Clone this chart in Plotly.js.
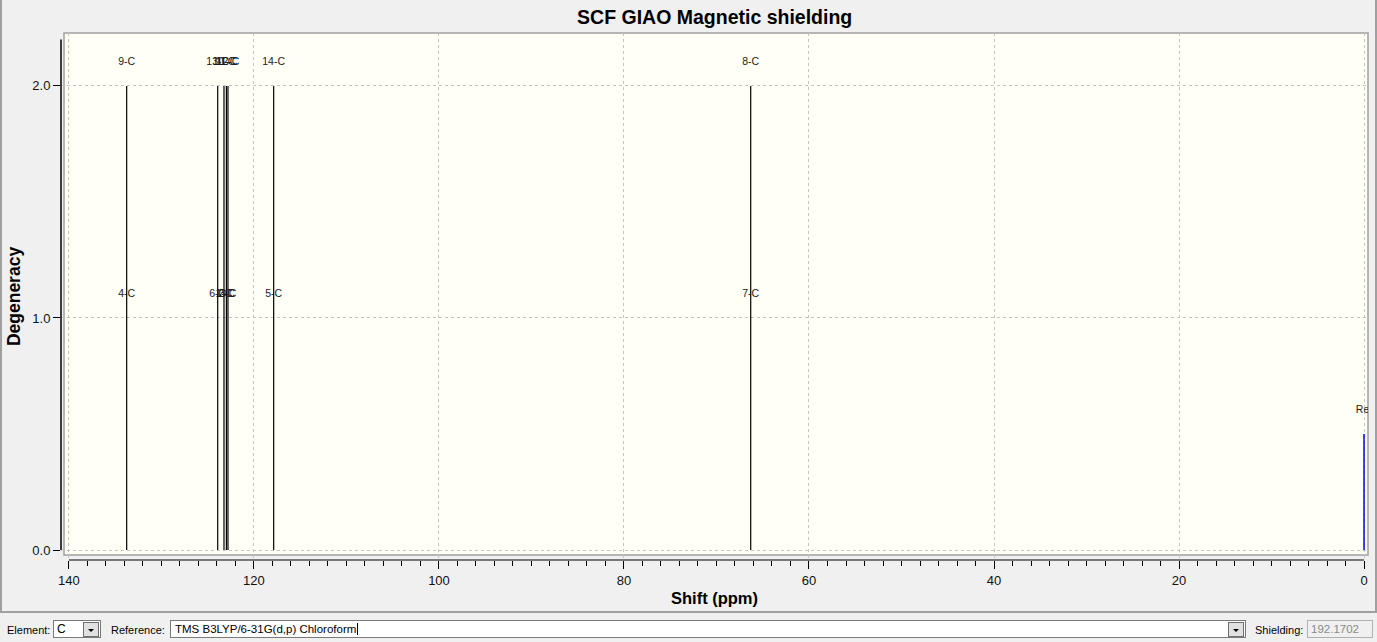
<!DOCTYPE html>
<html>
<head>
<meta charset="utf-8">
<script src="https://cdn.plot.ly/plotly-3.0.1.min.js"></script>
<style>
  html, body { margin:0; padding:0; background:#f0f0f0; width:1377px; height:642px; overflow:hidden;
    font-family:"Liberation Sans", Arial, sans-serif; }
  #frame { position:absolute; left:0; top:0; width:1373px; height:611px;
    border-left:2px solid #a0a0a0; border-right:2px solid #a0a0a0; border-bottom:2px solid #a0a0a0; }
  #chart { position:absolute; left:0; top:0; width:1377px; height:612px; }
  .lbl { position:absolute; font-size:11px; color:#000; top:624px; }
  .box { position:absolute; top:620px; height:18px; background:#fff; border:1px solid #7a7a7a;
    font-size:11.5px; line-height:17px; padding-left:3px; box-sizing:border-box; }
  .btn { position:absolute; top:622px; width:16px; height:15px; background:#e1e1e1; border:1px solid #707070; box-sizing:border-box; }
  .btn:after { content:""; position:absolute; left:4px; top:6px; border-left:3px solid transparent; border-right:3px solid transparent; border-top:3px solid #000; }
</style>
</head>
<body>
<div id="frame"></div>
<div id="chart"></div>
<div class="lbl" style="left:7px;">Element:</div>
<div class="box" style="left:53px; width:48px; font-size:12px;">C</div>
<div class="btn" style="left:83px;"></div>
<div class="lbl" style="left:111px;">Reference:</div>
<div class="box" style="left:170px; width:1076px; padding-left:4px;">TMS B3LYP/6-31G(d,p) Chloroform<span style="border-left:1px solid #000;margin-left:1px;"></span></div>
<div class="btn" style="left:1228px;"></div>
<div class="lbl" style="left:1255px;">Shielding:</div>
<div class="box" style="left:1307px; width:66px; background:#f0f0f0; border-color:#b0b0b0; color:#8a8a8a;">192.1702</div>
<script>
// ---- data ----
const shifts      = [133.76, 123.92, 123.24, 122.98, 122.81, 117.87, 66.30];
const degeneracy  = [2, 2, 2, 2, 2, 2, 2];
const upperLabels = ["9-C", "13-C", "10-C", "11-C", "12-C", "14-C", "8-C"];
const lowerLabels = ["4-C", "6-C", "1-C", "2-C", "3-C", "5-C", "7-C"];
const refShift    = [0];
const refHeight   = [0.5];
const refLabels   = ["Ref"];
const xTickVals   = [140, 120, 100, 80, 60, 40, 20, 0];
const yTickVals   = [0, 1, 2];

// sticks
const sx = [], sy = [];
shifts.forEach((s, i) => { sx.push(s, s, null); sy.push(0, degeneracy[i], null); });
const rx = [], ry = [];
refShift.forEach((s, i) => { rx.push(s, s, null); ry.push(0, refHeight[i], null); });

const labelFont = {family: "Liberation Sans, Arial, sans-serif", size: 10.5, color: "#1a1a1a"};

const traces = [
  {x: sx, y: sy, mode: "lines", line: {color: "#000000", width: 1.2}, hoverinfo: "skip", showlegend: false},
  {x: rx, y: ry, mode: "lines", line: {color: "#0000ff", width: 1.5}, hoverinfo: "skip", showlegend: false},
  {x: shifts, y: degeneracy.map(d => d + 0.1), mode: "text", text: upperLabels,
   textposition: "middle center", textfont: labelFont, cliponaxis: true, showlegend: false, hoverinfo: "skip"},
  {x: shifts, y: degeneracy.map(d => d - 0.9), mode: "text", text: lowerLabels,
   textposition: "middle center", textfont: labelFont, cliponaxis: true, showlegend: false, hoverinfo: "skip"},
  {x: refShift, y: refHeight.map(h => h + 0.1), mode: "text", text: refLabels,
   textposition: "middle center", textfont: labelFont, cliponaxis: true, showlegend: false, hoverinfo: "skip"}
];

const W = 1307, H = 527;
const layout = {
  width: 1377, height: 612,
  margin: {l: 61, r: 9, t: 33, b: 52, pad: 0},
  paper_bgcolor: "rgba(0,0,0,0)",
  plot_bgcolor: "#f0f0f0",
  font: {family: "Liberation Sans, Arial, sans-serif", color: "#111"},
  title: {text: "<b>SCF GIAO Magnetic shielding</b>", x: 0.519, xanchor: "center", y: 0.972, yanchor: "middle",
          font: {size: 19.5, color: "#000"}},
  showlegend: false,
  xaxis: {
    range: [140.86, -0.43], autorange: false,
    tickvals: xTickVals, ticktext: xTickVals.map(v => String(v)),
    ticks: "outside", ticklen: 8, tickwidth: 1, tickcolor: "#000",
    minor: {dtick: 2, tick0: 0, ticks: "outside", ticklen: 5, tickcolor: "#000", showgrid: false},
    showline: false, zeroline: false,
    showgrid: true, gridcolor: "#c4c4c4", griddash: "3px,3px", gridwidth: 1,
    tickfont: {size: 13, color: "#111"},
    title: {text: "<b>Shift (ppm)</b>", font: {size: 16.5, color: "#000"}, standoff: 5}
  },
  yaxis: {
    range: [-0.043, 2.228], autorange: false,
    tickvals: yTickVals, ticktext: yTickVals.map(v => v.toFixed(1)),
    ticks: "outside", ticklen: 7, tickwidth: 1, tickcolor: "#000",
    showline: false, zeroline: false,
    showgrid: true, gridcolor: "#c4c4c4", griddash: "3px,3px", gridwidth: 1,
    tickfont: {size: 13, color: "#111"},
    title: {text: "<b>Degeneracy</b>", font: {size: 17.5, color: "#000"}, standoff: 7}
  },
  shapes: [
    {type: "rect", xref: "paper", yref: "paper", x0: 3 / W, x1: 1, y0: 5 / H, y1: 1,
     fillcolor: "#fffff5", line: {color: "#a0a0a0", width: 1.5}, layer: "below"},
    {type: "line", xref: "x", yref: "paper", x0: 140, x1: 0, y0: 0, y1: 0,
     line: {color: "#000", width: 1}, layer: "above"},
    {type: "line", xref: "paper", yref: "y", x0: 0, x1: 0, y0: 0, y1: 2.2,
     line: {color: "#000", width: 1.5}, layer: "above"}
  ]
};

Plotly.newPlot("chart", traces, layout, {staticPlot: true, displayModeBar: false});
</script>
</body>
</html>
